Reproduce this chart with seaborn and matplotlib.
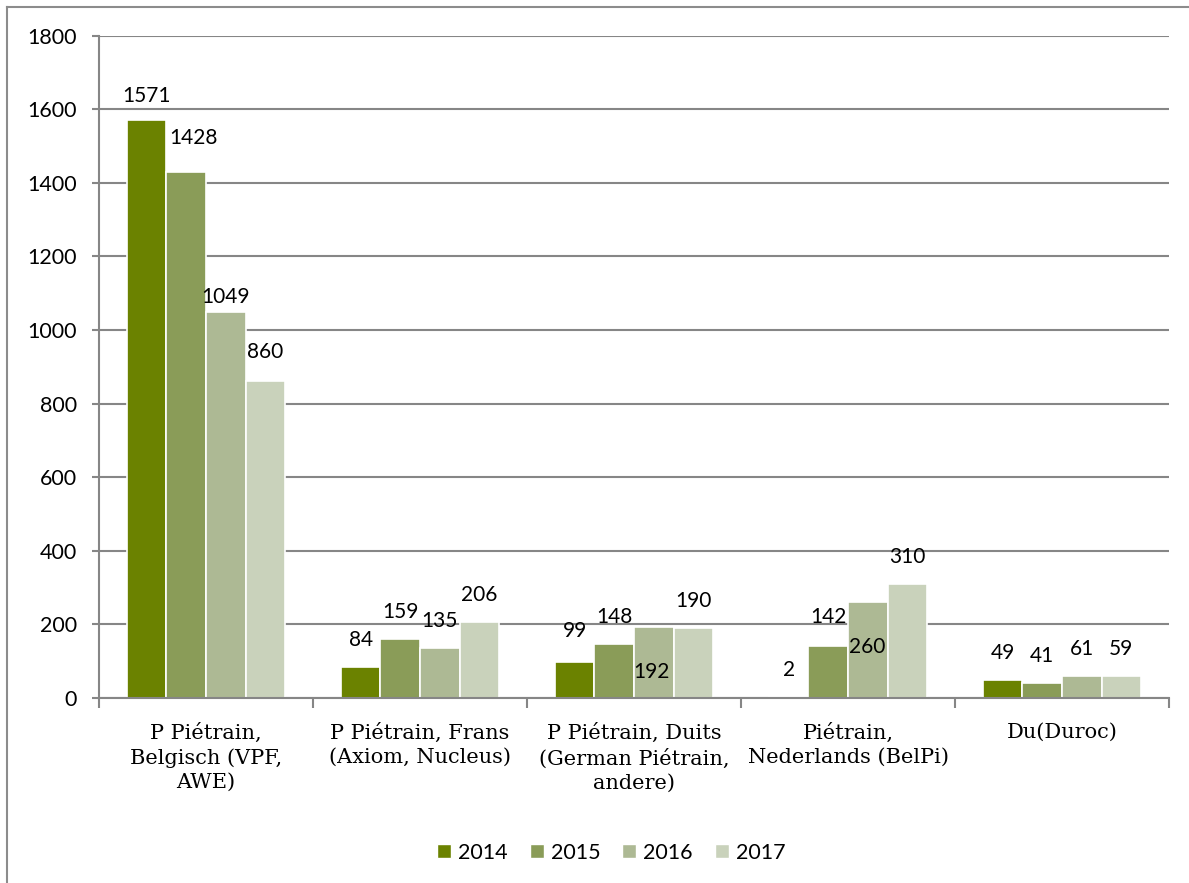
import pandas as pd
import seaborn as sns
import matplotlib.pyplot as plt
from matplotlib.lines import Line2D

# Data
categories = ['P Piétrain,\nBelgisch (VPF,\nAWE)',
              'P Piétrain, Frans\n(Axiom, Nucleus)',
              'P Piétrain, Duits\n(German Piétrain,\nandere)',
              'Piétrain,\nNederlands (BelPi)',
              'Du(Duroc)']
years = ['2014', '2015', '2016', '2017']
v2014 = [1571, 84, 99, 2, 49]
v2015 = [1428, 159, 148, 142, 41]
v2016 = [1049, 135, 192, 260, 61]
v2017 = [860, 206, 190, 310, 59]

colors = ['#6b8200', '#8a9c58', '#adb994', '#c9d2bb']

# label offsets in pixels (Excel placed a few labels oddly)
label_shift = {(0, 0): (0, 24), (0, 1): (7, 34), (0, 2): (0, 15), (0, 3): (0, 29),
               (2, 0): (0, 31), (2, 2): (-2, -45), (3, 1): (0, 29), (3, 2): (-1, -45)}

df = pd.DataFrame({'cat': categories * 4,
                   'year': [y for y in years for _ in categories],
                   'value': v2014 + v2015 + v2016 + v2017})

W, H, DPI = 1189, 883, 100
fig = plt.figure(figsize=(W / DPI, H / DPI), dpi=DPI)
ax = fig.add_axes([99 / W, 1 - 698 / H, 1070 / W, 662.5 / H])

sns.barplot(data=df, x='cat', y='value', hue='year', order=categories,
            hue_order=years, palette=colors, width=0.74, saturation=1,
            edgecolor='white', linewidth=1.2, ax=ax, legend=False)

gray = '#868686'
ax.set_ylim(0, 1800)
ax.set_xlim(-0.5, 4.5)
ax.set_yticks(range(0, 1801, 200))
ax.yaxis.grid(True, color=gray, linewidth=1.5)
ax.set_axisbelow(True)
for s in ['top', 'right']:
    ax.spines[s].set_visible(False)
for s in ['left', 'bottom']:
    ax.spines[s].set_color(gray)
    ax.spines[s].set_linewidth(1.5)
ax.set_xlabel('')
ax.set_ylabel('')
ax.tick_params(axis='y', length=5, width=1.5, color=gray, labelsize=15.5, pad=11)
ax.tick_params(axis='x', which='major', length=0, pad=18)
ax.set_xticks([i + 0.5 for i in range(-1, 5)], minor=True)
ax.tick_params(axis='x', which='minor', length=7, width=1.5, color=gray)
for lab in ax.get_yticklabels():
    lab.set_fontfamily('Lato')
ax.set_xticklabels(categories, fontsize=15, family='DejaVu Serif',
                   linespacing=1.32)

# data labels
for j, cont in enumerate(ax.containers):
    for i, bar in enumerate(cont):
        dx, dy = label_shift.get((i, j), (0, 27))
        ax.annotate(f'{int(bar.get_height())}',
                    xy=(bar.get_x() + bar.get_width() / 2, bar.get_height()),
                    xytext=(dx * 0.72, dy * 0.72), textcoords='offset points',
                    ha='center', va='center', fontsize=15, family='Lato')

handles = [Line2D([], [], marker='s', linestyle='', markersize=10,
                  markerfacecolor=c, markeredgecolor='white') for c in colors]
fig.legend(handles, years, loc='center', bbox_to_anchor=(0.513, 1 - 853 / H),
           ncol=4, frameon=False, handlelength=0.9, handletextpad=0.2,
           columnspacing=0.9, prop={'family': 'Lato', 'size': 15.5})

# outer frame (only top/left visible in the crop)
fig.add_artist(Line2D([7 / W, 1], [1 - 7 / H] * 2, color='#8c8c8c', lw=1.5))
fig.add_artist(Line2D([7 / W] * 2, [0, 1 - 7 / H], color='#8c8c8c', lw=1.5))

fig.savefig('out.png', dpi=DPI)
